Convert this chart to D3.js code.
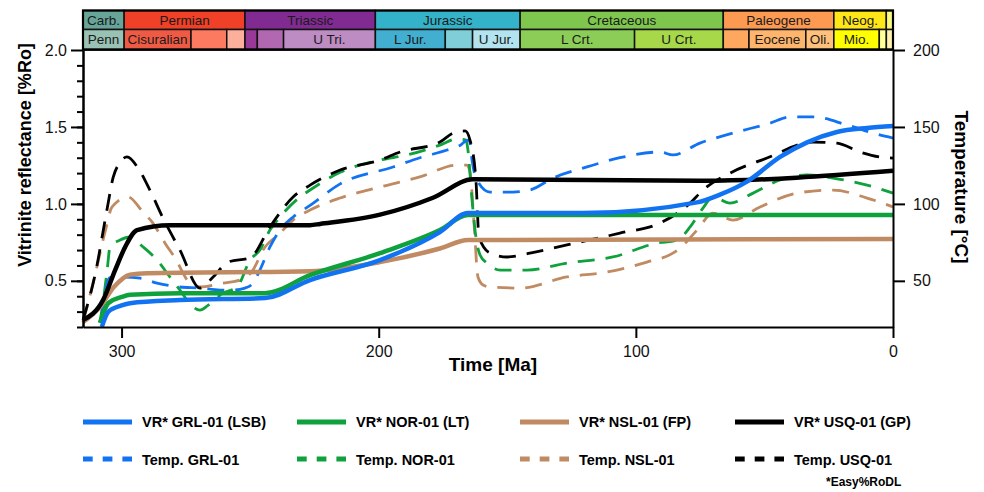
<!DOCTYPE html>
<html>
<head>
<meta charset="utf-8">
<script src="https://cdn.jsdelivr.net/npm/d3@7"></script>
<style>
  body { margin: 0; background: #fff; }
  svg { display: block; font-family: "Liberation Sans", Arial, sans-serif; }
</style>
</head>
<body>
<svg id="chart"></svg>
<script>
// time in Ma, VR in %Ro
const vrGRL = [[307.7,0.20],[305.1,0.30],[300,0.34],[296.7,0.355],[277.3,0.375],[244.2,0.388],[226.7,0.505],[199.5,0.635],[176.2,0.817],[165.3,0.94],[120.6,0.94],[76.2,1.01],[67.3,1.06],[56.8,1.145],[43.9,1.305],[33.4,1.40],[21.8,1.467],[10.1,1.493],[0,1.506]];
const vrNOR = [[308.4,0.226],[305.1,0.356],[300,0.395],[296.7,0.41],[277.3,0.42],[244.2,0.42],[226.7,0.537],[199.5,0.68],[176.2,0.83],[165.3,0.927],[0,0.927]];
const vrNSL = [[315,0.232],[308.4,0.33],[303,0.46],[296.7,0.54],[290.1,0.55],[226.7,0.563],[199.5,0.622],[176.2,0.71],[165.3,0.765],[0,0.772]];
const vrUSQ = [[315,0.245],[307.2,0.375],[302.5,0.57],[298.6,0.72],[294,0.83],[281.2,0.862],[226.7,0.862],[222.8,0.87],[199.5,0.93],[178.9,1.04],[163.3,1.16],[75,1.15],[0,1.215]];

// temperatures in °C
const tGRL = [[307.8,26],[304.6,52],[300.6,52.5],[292.8,51.8],[286.2,48.5],[277.3,46],[269.5,45.3],[261.7,44],[256.7,44],[252,45.3],[248.9,48.5],[246.2,57],[242.3,72],[238.4,83],[233.3,91.5],[226.7,99],[215,113],[194.4,124],[184,130],[173.4,135],[168.4,138],[165.3,141.5],[164.5,140],[163.7,128.5],[161.8,115.5],[156.7,107.7],[147.8,107.7],[141.2,109],[132.2,116.8],[119,124],[106.2,130],[90.6,133.7],[85.6,131.8],[75.1,139.5],[62.2,146],[47.8,152.5],[40.1,156.5],[31.1,156.5],[17.9,151.3],[7.8,146],[0,142.8]];
const tNOR = [[308.4,23],[306.8,41],[305.6,57],[304.5,72],[300.6,76.5],[296.7,78.5],[291.6,72],[286.2,63.5],[281.2,52.5],[277.3,44],[272.2,33],[269.5,31],[266.4,34],[260.6,42],[255.1,46],[250,63.5],[246.2,70],[242.3,83],[238.4,91.5],[230.6,104.5],[226.7,109],[215,120.5],[199.5,128.5],[189,131.8],[176.2,138.2],[169.6,142.2],[166,141.5],[165.3,135],[163.7,102.5],[162.2,78.5],[160.6,66.8],[157.9,61.5],[152.8,57],[142.3,57],[126.8,61.5],[108.9,65.5],[91.8,74.5],[84,76.5],[78.9,85],[73.9,97.3],[70,104.5],[63.4,100.5],[54.4,107],[43.9,115.5],[33.4,118.8],[23.3,116.8],[10.1,112.2],[0,107]];
const tNSL = [[315,23],[310.3,54],[306.4,82],[303.7,98],[297.5,104.5],[291.7,94.7],[287.8,87.5],[283.1,74.5],[279.2,64.8],[273.4,48.5],[269.5,46],[260.6,48.5],[254,50.5],[248.9,57],[245,70],[238.4,81],[233.3,89.5],[226.7,96],[215,103.8],[199.5,111],[184,117.5],[169.6,125.2],[165.7,125.2],[164.5,120.7],[163,89.5],[161.4,52.5],[159.4,47.3],[156.7,46],[145,45.3],[126.8,52.5],[111.2,55.7],[95.7,62.2],[85.6,68],[82.8,71.3],[76.2,83],[70,94],[62.2,89.5],[51.7,98],[37.3,107],[23.3,109],[10.1,103.8],[0,98]];
const tUSQ = [[315,24.5],[310.3,54],[305.7,96],[303.3,117],[300.6,127],[297.9,130.5],[293.6,123.3],[289,109],[283.9,90.8],[277.3,70],[269.5,45.3],[264.4,52.5],[258.6,62.2],[250,65],[242.3,85],[233.3,104.5],[226.7,112.2],[215,122],[199.5,128.5],[191.7,133.7],[176.2,140.2],[171.1,146],[166.4,147.4],[164.5,141.5],[162.2,115.5],[161,78.5],[156.7,68],[150.1,65.5],[141.2,68],[126.8,73.3],[106.2,81],[90.6,87.5],[78.9,100.5],[73.9,109],[63.4,120],[49,129.8],[31.1,140.2],[21.8,139.5],[12.8,133.7],[5.1,130.5],[0,129.8]];

const vrNames = ["VR* GRL-01 (LSB)", "VR* NOR-01 (LT)", "VR* NSL-01 (FP)", "VR* USQ-01 (GP)"];
const tempNames = ["Temp. GRL-01", "Temp. NOR-01", "Temp. NSL-01", "Temp. USQ-01"];

// geologic time scale (Ma boundaries)
const periodNames = ["Carb.", "Permian", "Triassic", "Jurassic", "Cretaceous", "Paleogene", "Neog.", ""];
const periodBounds = [315, 299, 252, 201.3, 145, 66, 23, 2.6, 0];
const epochNames = ["Penn", "Cisuralian", "", "", "", "", "U Tri.", "L Jur.", "", "U Jur.", "L Crt.", "U Crt.", "", "Eocene", "Oli.", "Mio.", "", ""];
const epochBounds = [315, 299, 273, 259.1, 252, 247.2, 237, 201.3, 174.1, 163.5, 145, 100.5, 66, 56, 33.9, 23, 5.33, 2.58, 0];

const vrTicks = [0.5, 1.0, 1.5, 2.0];
const tempTicks = [50, 100, 150, 200];
const timeTicks = [300, 200, 100, 0];

// styles
const seriesColors = ["#1273f2", "#0fa13c", "#c08a62", "#000000"];
const periodColors = ["#67a599", "#f04028", "#812b92", "#34b2c9", "#7fc64e", "#fd9a52", "#ffe619", "#f9f97f"];
const epochColors = ["#99c2b5", "#ef5a45", "#fb7a60", "#fcb09c", "#983999", "#b168b1", "#bd8cc3", "#42aed0", "#80cfd8", "#b3e3ee", "#8ccd57", "#a6d84a", "#fda75f", "#fdb46c", "#fec07a", "#ffff00", "#ffff99", "#fff2ae"];

const w = 984, h = 492;
const pLeft = 83, pRight = 893, pTop = 50, pBottom = 327;

const svg = d3.select("#chart").attr("width", w).attr("height", h);

const x = d3.scaleLinear().domain([315, 0]).range([pLeft, pRight]);
const yVR = d3.scaleLinear().domain([0.2, 2.0]).range([pBottom, pTop]);
const yT = d3.scaleLinear().domain([20, 200]).range([pBottom, pTop]);

// time scale bar
const bar = svg.append("g").attr("id", "timescale");
const rowTop = 10.5, rowMid = 29.5, rowBot = 49.5;

function drawRow(names, bounds, colors, y0, y1) {
  names.forEach((name, i) => {
    const x0 = x(bounds[i]), x1 = x(bounds[i + 1]);
    bar.append("rect")
      .attr("x", x0).attr("y", y0)
      .attr("width", x1 - x0).attr("height", y1 - y0)
      .attr("fill", colors[i])
      .attr("stroke", "#111").attr("stroke-width", 1.5);
    if (name) {
      bar.append("text")
        .attr("x", (x0 + x1) / 2).attr("y", (y0 + y1) / 2 + 4.8)
        .attr("text-anchor", "middle")
        .attr("font-size", 13.5)
        .attr("fill", "#1a1a1a")
        .text(name);
    }
  });
}
drawRow(periodNames, periodBounds, periodColors, rowTop, rowMid);
drawRow(epochNames, epochBounds, epochColors, rowMid, rowBot);
bar.append("rect")
  .attr("x", x(315)).attr("y", rowTop)
  .attr("width", x(0) - x(315)).attr("height", rowBot - rowTop)
  .attr("fill", "none").attr("stroke", "#000").attr("stroke-width", 2.2);

// lines
const lineVR = d3.line().x(d => x(d[0])).y(d => yVR(d[1])).curve(d3.curveMonotoneX);
const lineT = d3.line().x(d => x(d[0])).y(d => yT(d[1])).curve(d3.curveMonotoneX);

const tempSeries = [tGRL, tNOR, tNSL, tUSQ];
const vrSeries = [vrGRL, vrNOR, vrNSL, vrUSQ];

const plot = svg.append("g");
[2, 1, 0, 3].forEach(i => {
  plot.append("path")
    .attr("d", lineT(tempSeries[i]))
    .attr("fill", "none")
    .attr("stroke", seriesColors[i])
    .attr("stroke-width", 2.8)
    .attr("stroke-dasharray", "17,11");
});
[2, 1, 3, 0].forEach(i => {
  plot.append("path")
    .attr("d", lineVR(vrSeries[i]))
    .attr("fill", "none")
    .attr("stroke", seriesColors[i])
    .attr("stroke-width", 4.5)
    .attr("stroke-linejoin", "round");
});

// axes
const axisStyle = g => {
  g.selectAll(".domain").attr("stroke", "#000").attr("stroke-width", 2);
  g.selectAll(".tick line").attr("stroke", "#000").attr("stroke-width", 2);
  g.selectAll("text").attr("font-size", 16).attr("fill", "#111")
    .attr("font-family", "'Liberation Sans', Arial, sans-serif");
};

svg.append("g")
  .attr("transform", `translate(${pLeft},0)`)
  .call(d3.axisLeft(yVR).tickValues(d3.range(2, 20).map(d => d / 10)).tickSize(6).tickFormat("").tickSizeOuter(0))
  .call(axisStyle);

svg.append("g")
  .attr("id", "y-axis")
  .attr("transform", `translate(${pLeft},0)`)
  .call(d3.axisLeft(yVR).tickValues(vrTicks).tickFormat(d3.format(".1f")).tickSize(12).tickPadding(4).tickSizeOuter(0))
  .call(axisStyle);

svg.append("g")
  .attr("id", "y-axis-right")
  .attr("transform", `translate(${pRight},0)`)
  .call(d3.axisRight(yT).tickValues(tempTicks).tickSize(12).tickPadding(8).tickSizeOuter(0))
  .call(axisStyle);

svg.append("g")
  .attr("id", "x-axis")
  .attr("transform", `translate(0,${pBottom})`)
  .call(d3.axisBottom(x).tickValues(timeTicks).tickSize(11).tickPadding(8).tickSizeOuter(0))
  .call(axisStyle);

svg.append("line")
  .attr("x1", pLeft).attr("x2", pRight).attr("y1", pTop).attr("y2", pTop)
  .attr("stroke", "#000").attr("stroke-width", 1.5);

// axis titles
svg.append("text")
  .attr("transform", `translate(31,155) rotate(-90)`)
  .attr("text-anchor", "middle")
  .attr("font-size", 18).attr("font-weight", "bold")
  .text("Vitrinite reflectance [%Ro]");

svg.append("text")
  .attr("transform", `translate(955,187) rotate(90)`)
  .attr("text-anchor", "middle")
  .attr("font-size", 19).attr("font-weight", "bold")
  .text("Temperature [°C]");

svg.append("text")
  .attr("x", 493).attr("y", 371)
  .attr("text-anchor", "middle")
  .attr("font-size", 19).attr("font-weight", "bold")
  .text("Time [Ma]");

// legend
const legend = svg.append("g").attr("id", "legend");
const legendX = [83, 297, 520, 735];

vrNames.forEach((name, i) => {
  legend.append("line")
    .attr("x1", legendX[i]).attr("x2", legendX[i] + 49)
    .attr("y1", 422).attr("y2", 422)
    .attr("stroke", seriesColors[i]).attr("stroke-width", 5);
  legend.append("text")
    .attr("x", legendX[i] + 59).attr("y", 427)
    .attr("font-size", 14.5).attr("font-weight", "bold")
    .text(name);
});

tempNames.forEach((name, i) => {
  legend.append("line")
    .attr("x1", legendX[i]).attr("x2", legendX[i] + 49)
    .attr("y1", 459).attr("y2", 459)
    .attr("stroke", seriesColors[i]).attr("stroke-width", 5)
    .attr("stroke-dasharray", "9.7,10");
  legend.append("text")
    .attr("x", legendX[i] + 59).attr("y", 465)
    .attr("font-size", 14.5).attr("font-weight", "bold")
    .text(name);
});

legend.append("text")
  .attr("x", 826).attr("y", 486)
  .attr("font-size", 12).attr("font-weight", "bold")
  .text("*Easy%RoDL");
</script>
</body>
</html>
